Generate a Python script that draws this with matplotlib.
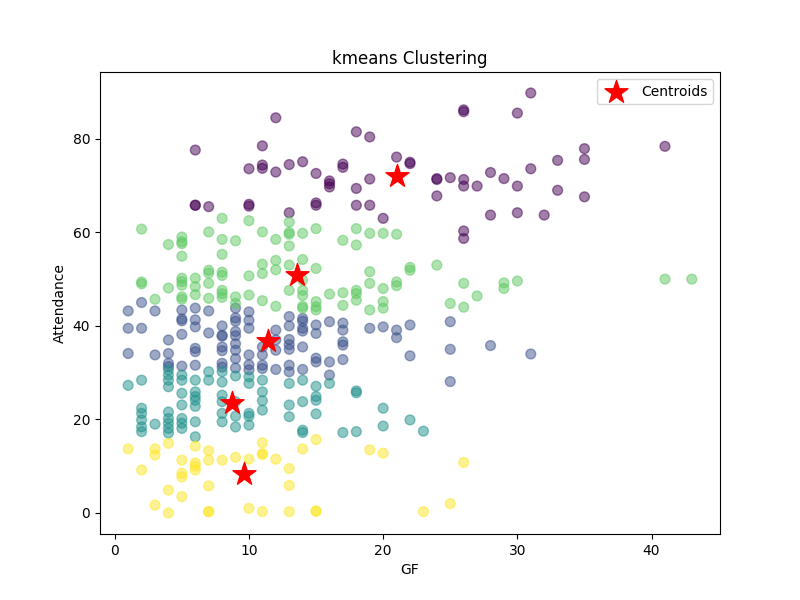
import numpy as np
import matplotlib
matplotlib.use("Agg")
import matplotlib.pyplot as plt

# GF -> list of attendance values, one dict per cluster
cluster0 = {6: [77.6, 65.8, 65.8], 7: [65.5], 10: [73.6, 66.0, 65.6],
            11: [78.5, 74.4, 73.7], 12: [84.5, 72.9], 13: [74.5, 64.2],
            14: [75.1], 15: [72.6, 66.3, 65.8], 16: [71.0, 70.4, 69.7],
            17: [74.6, 73.9], 18: [81.5, 69.4, 65.8], 19: [80.4, 71.4, 65.8],
            20: [63.0], 21: [76.1], 22: [75.0, 74.7], 24: [71.5, 71.3, 67.8],
            25: [71.7], 26: [86.2, 85.8, 71.3, 69.9, 60.3, 58.7], 27: [69.9],
            28: [72.8, 63.7], 29: [71.5], 30: [85.5, 69.9, 64.2],
            31: [89.8, 73.6], 32: [63.7], 33: [75.4, 69.0],
            35: [77.9, 75.6, 67.6], 41: [78.4]}

cluster1 = {1: [43.2, 39.5, 34.1], 2: [45.0, 39.5], 3: [43.2, 33.8],
            4: [37.0, 34.1, 32.0, 31.3], 5: [43.4, 41.5, 41.1, 38.2, 31.4],
            6: [43.8, 41.3, 39.8, 35.2, 34.5, 31.6], 7: [43.2, 38.5],
            8: [40.0, 38.0, 37.8, 35.5, 34.7, 32.0, 31.2],
            9: [43.8, 41.7, 41.0, 38.8, 37.9, 36.2, 34.8, 33.0, 31.0],
            10: [43.0, 41.2, 39.5, 33.8, 31.7, 30.6], 11: [35.5, 33.8, 31.6, 30.9],
            12: [39.1, 37.0, 34.8, 30.7], 13: [42.0, 40.0, 37.1, 36.0, 35.0, 31.6, 30.2],
            14: [41.6, 41.0, 39.5, 38.9, 35.5, 30.7], 15: [40.2, 38.4, 33.1, 32.3],
            16: [40.9, 32.3, 29.5], 17: [40.6, 39.1, 36.6, 35.9, 32.8],
            19: [39.5], 20: [39.8], 21: [39.1, 37.5], 22: [40.2, 33.6],
            25: [40.9, 35.0, 28.1], 28: [35.8], 31: [34.0]}

cluster2 = {1: [27.3], 2: [28.4, 22.4, 21.3, 19.9, 18.4, 17.4], 3: [19.0],
            4: [30.6, 29.5, 28.4, 27.0, 21.6, 20.2, 19.2, 18.1, 17.1],
            5: [29.5, 28.4, 25.6, 23.1, 20.2, 19.2, 18.1],
            6: [28.4, 25.9, 24.9, 24.1, 22.8, 19.5, 16.3], 7: [30.2, 28.4],
            8: [30.2, 28.0, 25.2, 23.8, 21.3, 19.5], 9: [29.3, 23.8, 20.7, 18.4],
            10: [29.1, 27.7, 21.3, 20.7, 18.8], 11: [28.4, 25.9, 24.0, 22.0],
            13: [27.7, 23.1, 20.6], 14: [28.4, 23.8, 17.7, 17.2],
            15: [27.1, 24.9, 24.1, 21.2], 16: [27.7], 17: [17.2],
            18: [26.1, 25.7, 17.4], 20: [22.4, 18.6], 22: [19.9], 23: [17.5]}

cluster3 = {2: [60.7, 49.4, 49.0], 3: [45.7], 4: [57.4, 48.1],
            5: [59.0, 58.0, 57.6, 54.9, 50.2, 49.5, 48.7, 46.2, 45.7],
            6: [50.2, 48.4, 46.7], 7: [60.1, 51.9, 51.3, 49.1, 45.9],
            8: [63.0, 58.5, 55.3, 51.5, 50.8, 47.6, 46.9, 46.1],
            9: [58.2, 46.2, 44.8], 10: [62.5, 50.7, 46.6],
            11: [60.1, 53.2, 51.2, 45.4], 12: [58.5, 54.0, 52.0, 44.2],
            13: [62.2, 60.0, 59.6, 57.1, 53.0, 47.6],
            14: [59.8, 54.2, 49.8, 47.6, 46.5, 44.2, 43.8],
            15: [60.8, 52.3, 45.2, 44.1, 43.4], 16: [46.8], 17: [58.3, 47.1, 44.4],
            18: [60.8, 57.3, 47.6, 46.9, 45.5], 19: [59.8, 51.6, 49.1, 43.4],
            20: [59.8, 48.0, 45.2, 43.8], 21: [59.6, 49.4, 48.6], 22: [52.5, 51.9],
            24: [53.0], 25: [44.8], 26: [49.1, 44.0], 27: [46.4], 29: [49.2, 48.0],
            30: [49.6], 41: [50.0], 43: [50.0]}

cluster4 = {1: [13.7], 2: [9.2], 3: [13.7, 12.4, 1.7], 4: [14.9, 4.9, 0.0],
            5: [11.3, 8.5, 7.7, 3.5], 6: [14.3, 10.7, 10.0, 9.2],
            7: [13.3, 11.3, 5.8, 0.3, 0.3], 8: [11.3], 9: [11.9], 10: [11.5, 1.0],
            11: [15.0, 12.7, 12.5, 0.3], 12: [11.5], 13: [9.5, 5.9, 0.3], 14: [13.7],
            15: [15.7, 0.4, 0.4], 19: [13.5], 20: [12.8], 23: [0.3], 25: [2.0],
            26: [10.8]}

centroid_gf = [21.0, 13.6, 11.4, 8.7, 9.6]
centroid_att = [72.0, 50.9, 36.8, 23.5, 8.4]

gf, att, labels = [], [], []
for k, cl in enumerate([cluster0, cluster1, cluster2, cluster3, cluster4]):
    for g, vals in cl.items():
        for v in vals:
            gf.append(g)
            att.append(v)
            labels.append(k)

fig, ax = plt.subplots(figsize=(8, 6), dpi=100)
ax.scatter(gf, att, c=labels, cmap='viridis', vmin=0, vmax=4, s=50, alpha=0.5)
ax.scatter(centroid_gf, centroid_att, marker='*', s=300, c='red', label='Centroids')
ax.set_title('kmeans Clustering')
ax.set_xlabel('GF')
ax.set_ylabel('Attendance')
ax.legend(loc='upper right')

plt.savefig('out.png')
